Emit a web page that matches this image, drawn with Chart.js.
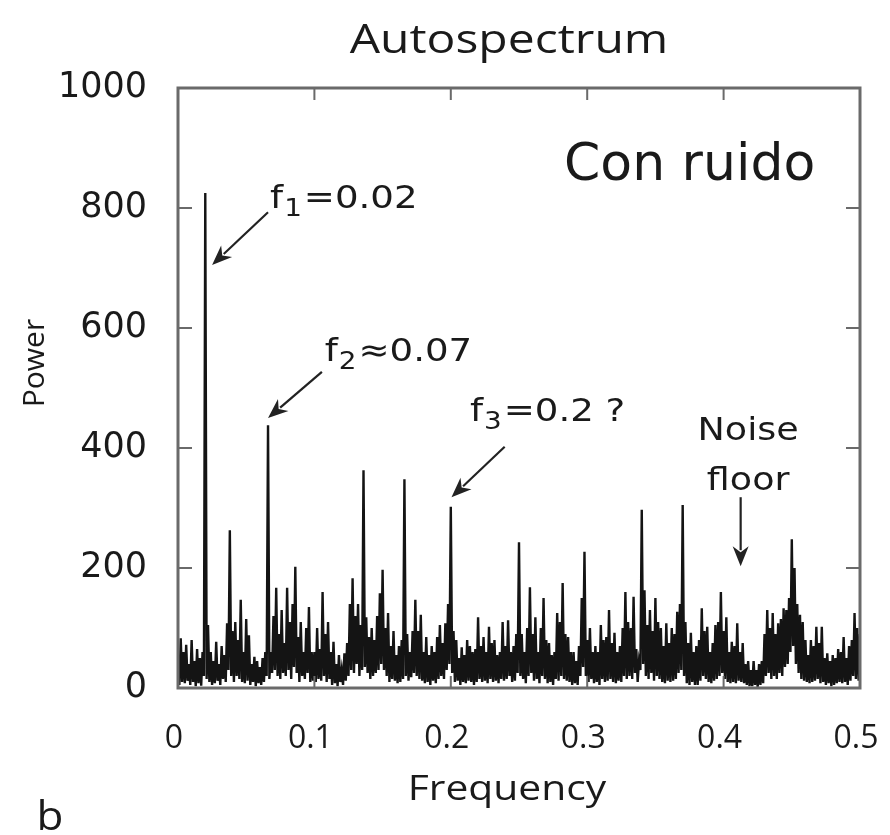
<!DOCTYPE html>
<html><head><meta charset="utf-8">
<script src="https://cdn.jsdelivr.net/npm/chart.js@4.4.1/dist/chart.umd.min.js"></script>
<style>html,body{margin:0;padding:0;background:#fff}#wrap{width:890px;height:835px}</style>
</head><body><div id="wrap"><canvas id="c" width="890" height="835"></canvas></div>
<script>
// ---- data ----
const frequencyStep = 0.001;          // sampling step of the spectrum (0 .. 0.5)
const power = [
  55, 5, 83, 10, 60, 8, 72, 12, 40, 5, 80, 10, 45, 3, 65, 8, 50, 4, 60, 20,
  825, 15, 105, 10, 60, 5, 45, 8, 77, 12, 40, 5, 70, 15, 55, 10, 108, 30, 263, 20,
  95, 10, 110, 20, 80, 15, 147, 10, 60, 8, 115, 12, 88, 5, 40, 10, 52, 3, 45, 8,
  35, 5, 50, 10, 60, 20, 438, 15, 60, 25, 120, 30, 167, 20, 90, 15, 130, 25, 75, 20,
  167, 30, 110, 15, 140, 35, 202, 25, 85, 10, 110, 20, 60, 15, 100, 25, 135, 10, 60, 12,
  60, 10, 100, 15, 65, 12, 160, 20, 90, 10, 110, 15, 60, 5, 77, 8, 40, 3, 55, 10,
  30, 5, 58, 12, 75, 20, 140, 30, 183, 25, 120, 40, 140, 20, 105, 30, 363, 35, 118, 25,
  85, 15, 100, 20, 80, 25, 120, 30, 158, 40, 197, 30, 100, 20, 125, 10, 70, 15, 95, 12,
  55, 8, 70, 10, 80, 15, 348, 20, 90, 12, 60, 18, 95, 25, 147, 20, 95, 15, 122, 12,
  60, 8, 85, 10, 55, 5, 70, 12, 60, 8, 85, 15, 105, 20, 75, 15, 108, 30, 140, 40,
  302, 25, 95, 10, 80, 12, 50, 5, 68, 10, 55, 8, 80, 12, 70, 10, 60, 5, 65, 10,
  118, 15, 70, 10, 85, 12, 60, 8, 102, 15, 75, 10, 80, 12, 55, 8, 60, 15, 110, 12,
  70, 15, 113, 20, 60, 10, 70, 12, 90, 25, 243, 20, 90, 15, 60, 8, 100, 20, 168, 25,
  90, 12, 118, 15, 60, 8, 100, 20, 150, 15, 80, 8, 75, 10, 55, 5, 60, 15, 125, 12,
  110, 20, 175, 15, 90, 12, 85, 10, 60, 5, 60, 8, 45, 5, 70, 20, 150, 35, 227, 20,
  80, 10, 100, 15, 60, 8, 70, 10, 60, 5, 105, 15, 80, 10, 85, 12, 130, 15, 75, 10,
  92, 8, 60, 12, 70, 10, 100, 20, 160, 15, 110, 20, 100, 15, 152, 25, 65, 10, 45, 30,
  297, 40, 163, 20, 105, 15, 130, 25, 95, 12, 150, 20, 110, 15, 100, 10, 70, 8, 108, 12,
  75, 10, 100, 12, 90, 15, 127, 25, 140, 30, 305, 20, 110, 8, 75, 5, 92, 10, 60, 5,
  70, 5, 80, 12, 133, 20, 95, 15, 102, 10, 60, 8, 75, 12, 105, 15, 110, 20, 160, 25,
  95, 15, 118, 10, 60, 8, 77, 10, 70, 8, 108, 12, 60, 10, 75, 8, 40, 5, 45, 3,
  30, 3, 45, 5, 30, 2, 40, 5, 45, 8, 90, 20, 130, 25, 100, 15, 125, 20, 90, 15,
  108, 25, 115, 20, 133, 35, 130, 40, 150, 60, 248, 70, 200, 40, 140, 25, 122, 15, 110, 12,
  80, 10, 55, 8, 80, 10, 70, 12, 102, 15, 75, 8, 102, 10, 50, 5, 58, 8, 45, 3,
  55, 5, 50, 8, 65, 10, 60, 8, 85, 10, 50, 5, 70, 12, 80, 20, 125, 15, 100, 12,
  90
];
const frequencies = power.map((_, i) => +(i * frequencyStep).toFixed(3));
const xTicks = [0, 0.1, 0.2, 0.3, 0.4, 0.5];
const yTicks = [0, 200, 400, 600, 800, 1000];
const chartTitle = 'Autospectrum';
const xTitle = 'Frequency';
const yTitle = 'Power';
const panelLetter = 'b';
const noteText = 'Con ruido';
// peak labels: [main, subscript, rest]
const peakLabels = [['f', '1', '=0.02'], ['f', '2', '≈0.07'], ['f', '3', '=0.2 ?']];
const noiseLabel = ['Noise', 'floor'];

// ---- layout of annotations, in data coordinates ----
const annot = {
  peakText: [[0.0675, 800], [0.1075, 545], [0.214, 445]],
  peakArrows: [[[0.066, 793], [0.025, 705]], [[0.1055, 527], [0.066, 450]], [[0.2395, 402], [0.2005, 318]]],
  noiseText: [[0.418, 413], [0.418, 330]],
  noiseArrow: [[0.4125, 318], [0.4125, 203]],
  note: [0.283, 847]
};

const C_TEXT = '#1a1a1a';
function stretchedText(ctx, txt, x, y, font, align, sx) {
  ctx.save();
  ctx.font = font;
  ctx.textAlign = align;
  ctx.textBaseline = 'alphabetic';
  ctx.translate(x, y);
  ctx.scale(sx, 1);
  ctx.fillText(txt, 0, 0);
  ctx.restore();
}
function arrow(ctx, x1, y1, x2, y2) {
  const ang = Math.atan2(y2 - y1, x2 - x1), L = 20, W = 8;
  ctx.save();
  ctx.strokeStyle = '#222'; ctx.fillStyle = '#222'; ctx.lineWidth = 2.2;
  ctx.beginPath(); ctx.moveTo(x1, y1);
  ctx.lineTo(x2 - Math.cos(ang) * L * 0.8, y2 - Math.sin(ang) * L * 0.8); ctx.stroke();
  ctx.beginPath(); ctx.moveTo(x2, y2);
  ctx.lineTo(x2 - Math.cos(ang) * L + Math.sin(ang) * W, y2 - Math.sin(ang) * L - Math.cos(ang) * W);
  ctx.lineTo(x2 - Math.cos(ang) * L * 0.7, y2 - Math.sin(ang) * L * 0.7);
  ctx.lineTo(x2 - Math.cos(ang) * L - Math.sin(ang) * W, y2 - Math.sin(ang) * L + Math.cos(ang) * W);
  ctx.closePath(); ctx.fill();
  ctx.restore();
}

const framePlugin = {
  id: 'frame',
  afterDatasetsDraw(chart) {
    const { ctx, chartArea: a, scales: { x, y } } = chart;
    ctx.save();
    ctx.strokeStyle = '#6a6a6a';
    ctx.lineWidth = 2;
    ctx.beginPath();
    yTicks.slice(1, -1).forEach(v => {
      const py = y.getPixelForValue(v);
      ctx.moveTo(a.left, py); ctx.lineTo(a.left + 14, py);
      ctx.moveTo(a.right, py); ctx.lineTo(a.right - 14, py);
    });
    xTicks.slice(1, -1).forEach(v => {
      const px = x.getPixelForValue(v);
      ctx.moveTo(px, a.top); ctx.lineTo(px, a.top + 12);
      ctx.moveTo(px, a.bottom); ctx.lineTo(px, a.bottom - 12);
    });
    ctx.stroke();
    ctx.lineWidth = 3;
    ctx.strokeRect(a.left, a.top, a.right - a.left, a.bottom - a.top);
    ctx.restore();
  }
};

const textPlugin = {
  id: 'texts',
  afterDraw(chart) {
    const { ctx, chartArea: a, scales: { x, y } } = chart;
    ctx.save();
    ctx.fillStyle = C_TEXT;
    const cx = (a.left + a.right) / 2;
    stretchedText(ctx, chartTitle, cx - 10, 53, '40px "Open Sans"', 'center', 1.2);
    stretchedText(ctx, xTitle, cx - 12, 800, '34px "Open Sans"', 'center', 1.2);
    stretchedText(ctx, panelLetter, 50, 830, '40px "Open Sans"', 'center', 1.1);
    ctx.save();
    ctx.translate(44, (a.top + a.bottom) / 2 - 25);
    ctx.rotate(-Math.PI / 2);
    ctx.font = '30px "Open Sans"'; ctx.textAlign = 'center'; ctx.textBaseline = 'alphabetic';
    ctx.fillText(yTitle, 0, 0);
    ctx.restore();
    // "Con ruido"
    stretchedText(ctx, noteText, x.getPixelForValue(annot.note[0]), y.getPixelForValue(annot.note[1]),
      '52px "DejaVu Sans"', 'left', 1.0);
    // peak labels
    peakLabels.forEach((p, i) => {
      let px = x.getPixelForValue(annot.peakText[i][0]);
      const py = y.getPixelForValue(annot.peakText[i][1]);
      const sx = 1.16;
      ctx.font = '32px "DejaVu Sans"';
      const w0 = ctx.measureText(p[0]).width * sx;
      stretchedText(ctx, p[0], px, py, '32px "DejaVu Sans"', 'left', sx);
      px += w0 + 1;
      ctx.font = '24px "DejaVu Sans"';
      const w1 = ctx.measureText(p[1]).width * sx;
      stretchedText(ctx, p[1], px, py + 8, '24px "DejaVu Sans"', 'left', sx);
      px += w1 + 2;
      stretchedText(ctx, p[2], px, py, '32px "DejaVu Sans"', 'left', sx);
      const ar = annot.peakArrows[i];
      arrow(ctx, x.getPixelForValue(ar[0][0]), y.getPixelForValue(ar[0][1]),
        x.getPixelForValue(ar[1][0]), y.getPixelForValue(ar[1][1]));
    });
    noiseLabel.forEach((t, i) => {
      stretchedText(ctx, t, x.getPixelForValue(annot.noiseText[i][0]), y.getPixelForValue(annot.noiseText[i][1]),
        '32px "DejaVu Sans"', 'center', 1.14);
    });
    const na = annot.noiseArrow;
    arrow(ctx, x.getPixelForValue(na[0][0]), y.getPixelForValue(na[0][1]),
      x.getPixelForValue(na[1][0]), y.getPixelForValue(na[1][1]));
    ctx.restore();
  }
};

new Chart(document.getElementById('c'), {
  type: 'line',
  data: {
    datasets: [{
      data: frequencies.map((f, i) => ({ x: f, y: power[i] })),
      borderColor: '#141414',
      borderWidth: 2.4,
      pointRadius: 0,
      tension: 0,
      fill: false
    }]
  },
  options: {
    responsive: false,
    animation: false,
    devicePixelRatio: 1,
    layout: { padding: { top: 88, right: 30, left: 0, bottom: 0 } },
    plugins: { legend: { display: false }, tooltip: { enabled: false }, title: { display: false } },
    scales: {
      x: {
        type: 'linear', min: 0, max: 0.5,
        afterBuildTicks: s => { s.ticks = xTicks.map(v => ({ value: v })); },
        afterFit: s => { s.height = 147; s.paddingLeft = 0; s.paddingRight = 0; },
        ticks: {
          autoSkip: false, maxRotation: 0, padding: 32, color: C_TEXT, labelOffset: -4,
          font: { family: '"Open Sans"', size: 32 },
          callback: v => String(v)
        },
        grid: { display: false, drawTicks: false },
        border: { display: false }
      },
      y: {
        type: 'linear', min: 0, max: 1000,
        afterBuildTicks: s => { s.ticks = yTicks.map(v => ({ value: v })); },
        afterFit: s => { s.width = 178; s.paddingTop = 0; s.paddingBottom = 0; },
        ticks: {
          padding: 31, color: C_TEXT,
          font: { family: '"DejaVu Sans"', size: 35 },
          callback: v => String(v)
        },
        grid: { display: false, drawTicks: false },
        border: { display: false }
      }
    }
  },
  plugins: [framePlugin, textPlugin]
});
</script>
</body></html>
